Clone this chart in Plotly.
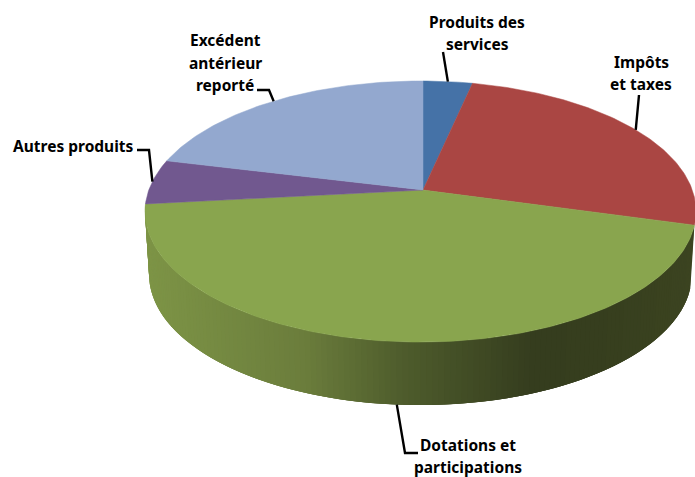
import math
import plotly.graph_objects as go

categories = ["Produits des services", "Impôts et taxes", "Dotations et participations",
              "Autres produits", "Excédent antérieur reporté"]
values = [3.4, 25.9, 44.0, 5.5, 21.2]
colors = ["#4572A7", "#AA4643", "#89A54E", "#71588F", "#93A8CF"]

label_lines = [["Produits des", "services"], ["Impôts", "et taxes"], ["Dotations et", "participations"],
               ["Autres produits"], ["Excédent", "antérieur", "reporté"]]
label_pos = [[(477, 22), (477, 44)], [(641, 62), (641, 84)], [(468, 445), (468, 466.5)],
             [(73, 146)], [(225, 40), (225, 63), (225, 85)]]
leader_bends = [[(443, 52)], [(639, 95)], [(405, 453), (418, 453)], [(149, 150), (137, 150)], [(269, 90), (257, 90)]]

# projection of the pie plane onto the page
CX, CY, A, B, K, M = 423, 190, 271.7, 127, 0.165, 0.009
DEPTH = 63
LOW_SCALE = 0.985

# side shading: (x, colour)
SHADE = [(146, (125, 148, 70)), (300, (107, 125, 60)), (400, (78, 92, 44)),
         (530, (53, 61, 30)), (600, (54, 62, 30)), (696, (60, 68, 32))]


def top(t):
    w = 1 + K * math.cos(t) + M * math.sin(t)
    return CX + A * math.sin(t) / w, CY - B * math.cos(t) / w


def low(t):
    x, y = top(t)
    return CX - 2.5 + (x - CX + 2.5) * LOW_SCALE, y + DEPTH


def shade(x):
    for (x0, c0), (x1, c1) in zip(SHADE, SHADE[1:]):
        if x <= x1:
            f = max(0, (x - x0) / (x1 - x0))
            return "rgb(%d,%d,%d)" % tuple(round(a + (b - a) * f) for a, b in zip(c0, c1))
    return "rgb(%d,%d,%d)" % SHADE[-1][1]


total = sum(values)
edges = [0]
for v in values:
    edges.append(edges[-1] + v / total * 2 * math.pi)

fig = go.Figure()
NOHOVER = dict(hoverinfo="skip", showlegend=False)

# side wall of the front slice: overlapping strips so no seams appear
g0, g1 = edges[2], edges[3]
n = 150
for i in range(n):
    t0 = g0 + (g1 - g0) * i / n
    t1 = g0 + (g1 - g0) * min(i + 3, n) / n
    tm = g0 + (g1 - g0) * (i + 1) / n
    rim_t = [t0 + (t1 - t0) * j / 3 for j in range(4)]
    p = [top(t) for t in rim_t] + [low(t) for t in reversed(rim_t)] + [top(t0)]
    col = shade(top(tm)[0])
    fig.add_trace(go.Scatter(x=[q[0] for q in p], y=[q[1] for q in p], mode="lines", fill="toself",
                             fillcolor=col, line=dict(width=0), **NOHOVER))

# top faces
for i, name in enumerate(categories):
    m = max(4, int(values[i] * 4))
    pts = [(CX, CY)] + [top(edges[i] + (edges[i + 1] - edges[i]) * j / m) for j in range(m + 1)] + [(CX, CY)]
    fig.add_trace(go.Scatter(x=[q[0] for q in pts], y=[q[1] for q in pts], mode="lines", fill="toself",
                             fillcolor=colors[i], line=dict(color=colors[i], width=0.5), name=name,
                             hoverinfo="name", showlegend=False))

# leaders and labels
annotations = []
for i, name in enumerate(categories):
    mid = (edges[i] + edges[i + 1]) / 2
    start = low(mid) if i == 2 else top(mid)
    path = [start] + leader_bends[i]
    fig.add_trace(go.Scatter(x=[q[0] for q in path], y=[q[1] for q in path], mode="lines",
                             line=dict(color="#000000", width=2.4), **NOHOVER))
    for text, (x, y) in zip(label_lines[i], label_pos[i]):
        annotations.append(dict(x=x, y=y, text=text, showarrow=False, xanchor="center", yanchor="middle",
                                font=dict(family="Noto Sans", size=15.5, color="#000000", weight="bold")))

fig.update_layout(
    width=695, height=477, margin=dict(l=0, r=0, t=0, b=0),
    paper_bgcolor="white", plot_bgcolor="white", annotations=annotations,
    xaxis=dict(range=[0, 695], visible=False, fixedrange=True),
    yaxis=dict(range=[477, 0], visible=False, fixedrange=True),
)
fig.write_html("out.html", config={"displayModeBar": False},
               post_script="document.body.style.margin='0';document.body.style.overflow='hidden';")
